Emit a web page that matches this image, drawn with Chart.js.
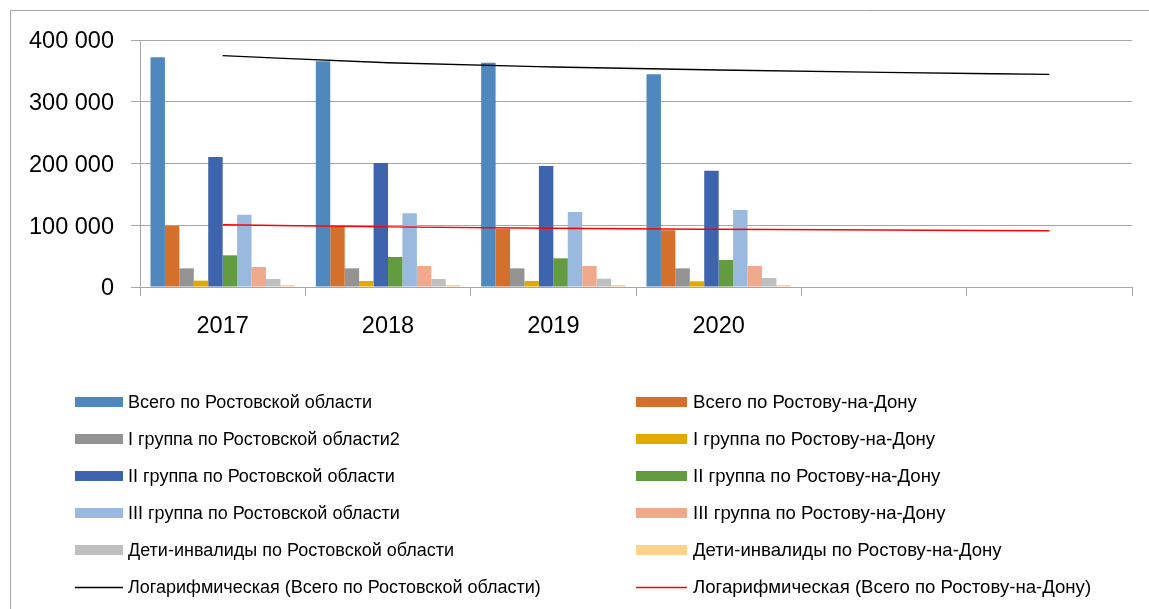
<!DOCTYPE html>
<html>
<head>
<meta charset="utf-8">
<script src="https://cdn.jsdelivr.net/npm/chart.js@4.4.1/dist/chart.umd.min.js"></script>
<style>
html,body{margin:0;padding:0;background:#ffffff;}
#wrap{position:relative;width:1149px;height:609px;overflow:hidden;}
canvas{display:block;}
</style>
</head>
<body>
<div id="wrap"><canvas id="c" width="1149" height="609"></canvas></div>
<script>
// ---- data ----
const categories = ['2017', '2018', '2019', '2020', '', ''];
const yTicks = [0, 100000, 200000, 300000, 400000];

const totalRegion   = [372000, 365500, 363300, 344400];
const totalRostov   = [99000, 97500, 94200, 92000];
const g1Region      = [30200, 30200, 30200, 30200];
const g1Rostov      = [10300, 9700, 9700, 9200];
const g2Region      = [210500, 200800, 196000, 188400];
const g2Rostov      = [51300, 48600, 46400, 43700];
const g3Region      = [117100, 119300, 121500, 124700];
const g3Rostov      = [32400, 34000, 34000, 34000];
const kidsRegion    = [13000, 13000, 13500, 14600];
const kidsRostov    = [3200, 3200, 3200, 3200];
// logarithmic trend lines (incl. 2 forecast periods)
const trendRegion   = [374700, 363200, 356300, 351300, 347500, 344400];
const trendRostov   = [100800, 97300, 95100, 93500, 92200, 91200];

const names = [
  'Всего по Ростовской области',
  'Всего по Ростову-на-Дону',
  'I группа по Ростовской области2',
  'I группа по Ростову-на-Дону',
  'II группа по Ростовской области',
  'II группа по Ростову-на-Дону',
  'III группа по Ростовской области',
  'III группа по Ростову-на-Дону',
  'Дети-инвалиды по Ростовской области',
  'Дети-инвалиды по Ростову-на-Дону',
  'Логарифмическая (Всего по Ростовской области)',
  'Логарифмическая (Всего по Ростову-на-Дону)'
];
const barSeries = [totalRegion, totalRostov, g1Region, g1Rostov, g2Region, g2Rostov, g3Region, g3Rostov, kidsRegion, kidsRostov];
const barColors = ['#4F88BC', '#D3702C', '#939393', '#E2AA00', '#3D64AC', '#639B41', '#99B9DF', '#F1A98C', '#BFBFBF', '#FDD38C'];

// ---- build chart ----
const FONT = '"Liberation Sans", Arial, sans-serif';
const datasets = barSeries.map((d, i) => ({
  type: 'bar',
  label: names[i],
  data: d,
  backgroundColor: barColors[i],
  borderWidth: 0,
  barPercentage: 1,
  categoryPercentage: 0.873,
  order: 1
}));
datasets.push({
  type: 'line', label: names[10], data: trendRegion,
  borderColor: '#000000', borderWidth: 1.4, pointRadius: 0,
  cubicInterpolationMode: 'monotone', fill: false, order: 0
});
datasets.push({
  type: 'line', label: names[11], data: trendRostov,
  borderColor: '#FF0000', borderWidth: 1.4, pointRadius: 0,
  cubicInterpolationMode: 'monotone', fill: false, order: 0
});

const frame = {
  id: 'frame',
  beforeDraw(chart) {
    const ctx = chart.ctx;
    ctx.save();
    ctx.fillStyle = '#ffffff';
    ctx.fillRect(0, 0, chart.width, chart.height);
    ctx.strokeStyle = '#A3A3A3';
    ctx.lineWidth = 1;
    ctx.beginPath();
    ctx.moveTo(10.5, chart.height);
    ctx.lineTo(10.5, 10.5);
    ctx.lineTo(chart.width, 10.5);
    ctx.stroke();
    ctx.restore();
  }
};

const legend2col = {
  id: 'legend2col',
  afterDraw(chart) {
    const ctx = chart.ctx;
    ctx.save();
    ctx.textBaseline = 'middle';
    ctx.textAlign = 'left';
    chart.data.datasets.forEach((ds, i) => {
      const col = i % 2, row = Math.floor(i / 2);
      const sx = col ? 636 : 75;
      const sw = col ? 51 : 48;
      const tx = col ? 693 : 128;
      const cy = 402 + row * 37;
      if (ds.type === 'line') {
        ctx.strokeStyle = ds.borderColor;
        ctx.lineWidth = 1.4;
        ctx.beginPath();
        ctx.moveTo(sx, cy + 0.5);
        ctx.lineTo(sx + sw, cy + 0.5);
        ctx.stroke();
      } else {
        ctx.fillStyle = ds.backgroundColor;
        ctx.fillRect(sx, cy - 5, sw, 10);
      }
      ctx.font = (col ? '18.6px ' : '18px ') + FONT;
      ctx.fillStyle = '#000000';
      ctx.fillText(ds.label, tx, cy + 1);
    });
    ctx.restore();
  }
};

new Chart(document.getElementById('c'), {
  type: 'bar',
  data: { labels: categories, datasets },
  options: {
    responsive: false,
    animation: false,
    devicePixelRatio: 1,
    layout: { padding: { top: 40, right: 17, left: 0, bottom: 0 } },
    plugins: { legend: { display: false }, tooltip: { enabled: false }, title: { display: false } },
    scales: {
      x: {
        offset: true,
        grid: { offset: true, drawOnChartArea: false, drawTicks: true, tickLength: 9, color: '#A6A6A6' },
        border: { display: true, color: '#A6A6A6' },
        ticks: { color: '#000000', font: { family: FONT, size: 23.5 }, padding: 16, maxRotation: 0, autoSkip: false },
        afterFit(s) { s.height = 322; }
      },
      y: {
        min: 0, max: 400000,
        afterBuildTicks(s) { s.ticks = yTicks.map(v => ({ value: v })); },
        grid: { color: '#A6A6A6', tickLength: 9, drawTicks: true },
        border: { display: true, color: '#A6A6A6' },
        ticks: {
          color: '#000000', font: { family: FONT, size: 23.5 }, padding: 17, labelOffset: 2,
          callback: v => String(v).replace(/\B(?=(\d{3})+(?!\d))/g, ' ')
        },
        afterFit(s) { s.width = 140; }
      }
    }
  },
  plugins: [frame, legend2col]
});
</script>
</body>
</html>
